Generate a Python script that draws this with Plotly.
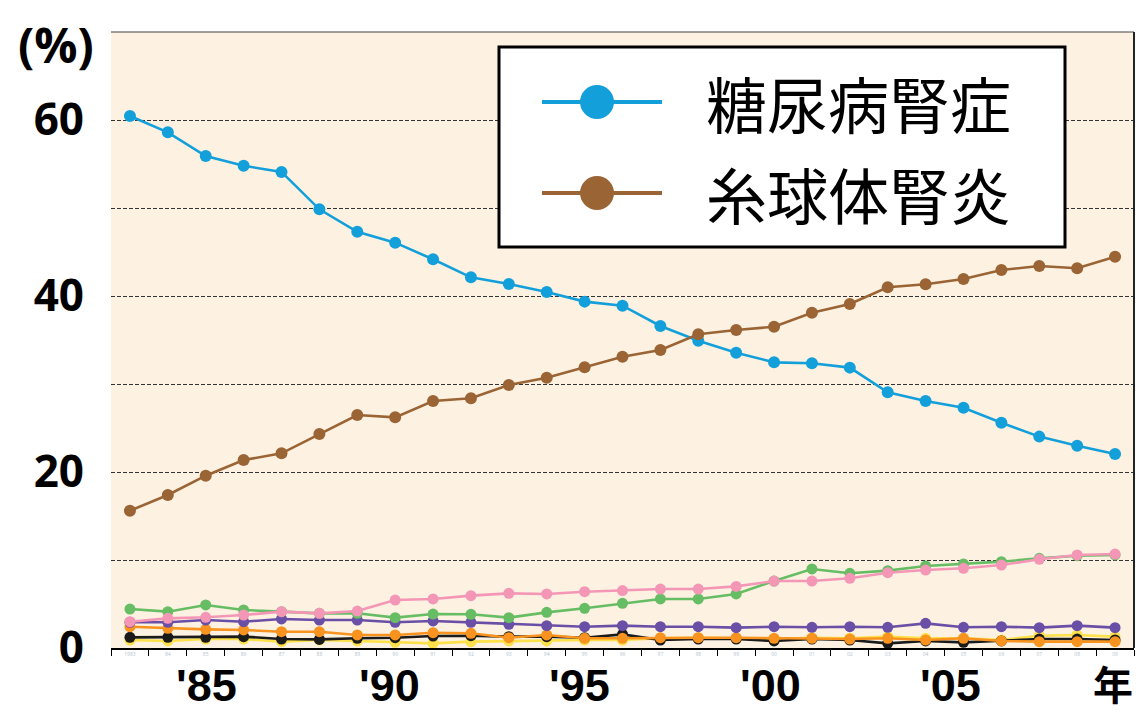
import plotly.graph_objects as go

years = [str(y) for y in range(1983, 2010)]
tick_labels = ["1983"] + [f"{y % 100:02d}" for y in range(1984, 2010)]

diabetic = [60.45, 58.6, 55.9, 54.8, 54.1, 49.85, 47.3, 46.06, 44.17, 42.12, 41.36, 40.45, 39.36,
            38.9, 36.59, 34.92, 33.56, 32.46, 32.35, 31.86, 29.05, 28.07, 27.31, 25.6, 24.02, 22.99, 22.05]
glomerulo = [15.6, 17.39, 19.58, 21.36, 22.12, 24.32, 26.48, 26.21, 28.07, 28.37, 29.89, 30.72, 31.9,
             33.1, 33.86, 35.65, 36.14, 36.51, 38.1, 39.09, 40.99, 41.33, 41.93, 42.95, 43.41, 43.15, 44.47]
green = [4.43, 4.13, 4.89, 4.32, 4.13, 3.94, 3.94, 3.45, 3.86, 3.83, 3.45, 4.05, 4.51, 5.08, 5.57, 5.57,
         6.14, 7.61, 8.98, 8.49, 8.79, 9.32, 9.55, 9.81, 10.19, 10.49, 10.57]
pink = [2.99, 3.37, 3.49, 3.75, 4.13, 3.94, 4.2, 5.45, 5.57, 5.95, 6.21, 6.14, 6.4, 6.52, 6.7, 6.7,
        7.0, 7.61, 7.61, 7.92, 8.56, 8.86, 9.06, 9.43, 10.08, 10.57, 10.68]
purple = [2.92, 2.92, 3.18, 2.99, 3.3, 3.18, 3.18, 2.92, 3.07, 2.92, 2.69, 2.54, 2.42, 2.54, 2.42, 2.42,
          2.31, 2.42, 2.35, 2.42, 2.35, 2.8, 2.35, 2.42, 2.31, 2.54, 2.31]
orange = [2.42, 2.24, 2.12, 2.05, 1.85, 1.85, 1.48, 1.48, 1.74, 1.67, 1.17, 1.48, 1.1, 1.1, 1.17, 1.17,
          1.17, 1.1, 1.1, 1.02, 1.1, 0.91, 1.1, 0.8, 0.72, 0.72, 0.72]
black = [1.21, 1.21, 1.21, 1.29, 1.02, 0.98, 1.1, 1.17, 1.36, 1.4, 1.29, 1.29, 1.17, 1.55, 0.91, 1.02,
         1.02, 0.8, 1.02, 0.91, 0.53, 0.8, 0.64, 0.8, 1.02, 1.02, 0.91]
yellow = [0.91, 0.8, 1.02, 1.02, 0.72, 0.91, 0.8, 0.64, 0.53, 0.72, 0.8, 0.8, 0.91, 0.91, 1.1, 1.17,
          1.1, 1.02, 1.17, 1.1, 1.29, 1.1, 1.1, 0.91, 1.4, 1.48, 1.29]

legend_names = ["糖尿病腎症", "糸球体腎炎"]
era_years = ["1985", "1990", "1995", "2000", "2005"]
era_labels = ["'85", "'90", "'95", "'00", "'05"]
era_shift = [1, -6, -5, -4, -13]

BLUE = "#13a0da"
BROWN = "#9a6434"

W, H = 1144, 713
ML, MR, MT, MB = 111, 10, 32, 65
PW, PH = W - ML - MR, H - MT - MB


def px(xp):
    return (xp - ML) / PW


def py(yp):
    return (H - MB - yp) / PH


fig = go.Figure()
small = [(yellow, "#fde04a"), (black, "#1a1a1a"), (orange, "#f7931e"),
         (purple, "#6a4fa6"), (green, "#66bd63"), (pink, "#f497b7")]
for vals, col in small:
    fig.add_trace(go.Scatter(x=years, y=vals, mode="lines+markers",
                             line=dict(color=col, width=2.6),
                             marker=dict(color=col, size=11), showlegend=False))
fig.add_trace(go.Scatter(x=years, y=diabetic, mode="lines+markers", name=legend_names[0],
                         line=dict(color=BLUE, width=2.6), marker=dict(color=BLUE, size=12),
                         showlegend=False))
fig.add_trace(go.Scatter(x=years, y=glomerulo, mode="lines+markers", name=legend_names[1],
                         line=dict(color=BROWN, width=2.6), marker=dict(color=BROWN, size=12),
                         showlegend=False))

shapes = [
    dict(type="line", xref="paper", yref="paper", x0=0, x1=1, y0=1, y1=1,
         line=dict(color="#444", width=1.2)),
    dict(type="line", xref="paper", yref="paper", x0=1, x1=1, y0=0, y1=1,
         line=dict(color="#222", width=2)),
    dict(type="rect", xref="paper", yref="paper", x0=px(499), x1=px(1065), y0=py(247), y1=py(47),
         fillcolor="white", line=dict(color="black", width=3), layer="above"),
]
annotations = []
rows = [(102, BLUE, legend_names[0]), (193, BROWN, legend_names[1])]
for yc, col, name in rows:
    shapes.append(dict(type="line", xref="paper", yref="paper", x0=px(542), x1=px(662),
                       y0=py(yc), y1=py(yc), line=dict(color=col, width=4), layer="above"))
    shapes.append(dict(type="circle", xref="paper", yref="paper", x0=px(580), x1=px(614),
                       y0=py(yc + 17), y1=py(yc - 17), fillcolor=col,
                       line=dict(color=col, width=0), layer="above"))
    annotations.append(dict(text=name, xref="paper", yref="paper", x=px(704), y=py(yc),
                            xanchor="left", yanchor="middle", showarrow=False,
                            font=dict(family="Noto Sans CJK JP", size=61, color="black")))

for yr, lab, sh in zip(era_years, era_labels, era_shift):
    annotations.append(dict(text=f"<b>{lab}</b>", x=years.index(yr), xref="x", yref="paper",
                            y=py(685), xanchor="center", yanchor="middle", showarrow=False,
                            xshift=sh, font=dict(family="Liberation Sans", size=45, color="black")))
annotations.append(dict(text="<b>年</b>", xref="paper", yref="paper", x=px(1113), y=py(683),
                        xanchor="center", yanchor="middle", showarrow=False,
                        font=dict(family="Noto Sans CJK JP", size=40, color="black")))
annotations.append(dict(text="<b>(%)</b>", xref="paper", yref="paper", x=px(56), y=py(45),
                        xanchor="center", yanchor="middle", showarrow=False,
                        font=dict(family="Open Sans", size=48, color="black")))

fig.update_layout(
    width=W, height=H,
    margin=dict(l=ML, r=MR, t=MT, b=MB, pad=0),
    paper_bgcolor="white", plot_bgcolor="#fdf1e2",
    shapes=shapes, annotations=annotations,
    xaxis=dict(type="category", categoryorder="array", categoryarray=years,
               range=[-0.5, 26.5], tickmode="array", tickvals=years, ticktext=tick_labels,
               tickson="boundaries", ticks="outside", ticklen=6, tickcolor="black", tickwidth=1,
               tickfont=dict(size=5, color="#b3bfcf", family="Open Sans"),
               showline=True, linecolor="black", linewidth=1.5, showgrid=False,
               zeroline=False, fixedrange=True),
    yaxis=dict(range=[0, 70], tickmode="array", tickvals=[0, 10, 20, 30, 40, 50, 60],
               ticktext=["<b>0</b>", "", "<b>20</b>", "", "<b>40</b>", "", "<b>60</b>"],
               ticks="", ticklabelstandoff=26,
               tickfont=dict(family="Open Sans", size=44, color="black"),
               showgrid=True, gridcolor="#333", gridwidth=1, griddash="4px,2px",
               zeroline=False, showline=False, fixedrange=True),
)

fig.write_html("out.html")
